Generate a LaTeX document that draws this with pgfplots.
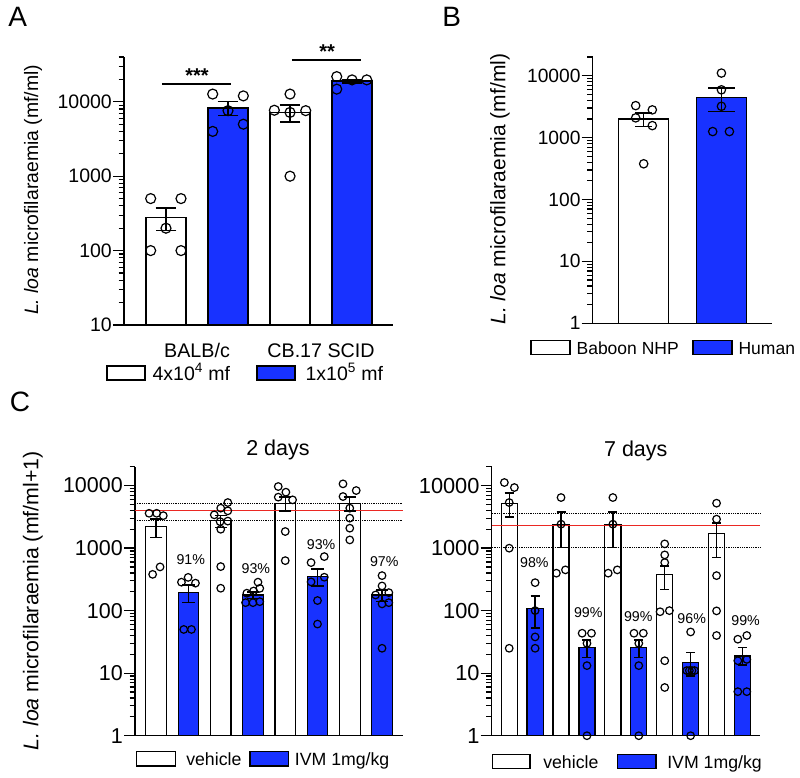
\documentclass[border=0pt]{standalone}
\usepackage{pgfplots}
\pgfplotsset{compat=1.18}
\usepackage{fontspec}
\setmainfont{Liberation Sans}

\definecolor{ivm}{RGB}{24,50,255}
\definecolor{refred}{RGB}{235,40,35}
\newcommand{\fs}[1]{\fontsize{#1}{#1}\selectfont}

\pgfplotsset{
  scale only axis, clip=false,
  axis x line*=bottom, axis y line*=left,
  axis line style={line width=1.3pt},
  tick align=outside, major tick length=11pt, minor tick length=5.5pt,
  tick style={black, line width=1.2pt},
  yticklabel style={inner sep=1pt},
}

\begin{document}
\begin{tikzpicture}
\path[use as bounding box] (0,0) rectangle (800pt,-778pt);

% panel letters and titles
\node[font=\fs{28}] at (17.8pt,-16.7pt) {A};
\node[font=\fs{28}] at (451.7pt,-16.7pt) {B};
\node[font=\fs{28}] at (20pt,-402pt) {C};
\node[font=\fs{21.5}, anchor=base] at (278pt,-455.5pt) {2 days};
\node[font=\fs{21.5}, anchor=base] at (635.8pt,-456pt) {7 days};

% legends
\begin{scope}[line width=1.2pt, inner sep=0pt]
\draw[fill=white] (107pt,-366pt) rectangle (145pt,-380pt);
\node[anchor=base west, font=\fs{19.5}] at (152pt,-380pt) {4x10\textsuperscript{4} mf};
\draw[fill=ivm] (257pt,-366pt) rectangle (295pt,-380pt);
\node[anchor=base west, font=\fs{19.5}] at (305pt,-380pt) {1x10\textsuperscript{5} mf};
\draw[fill=white] (531pt,-340.7pt) rectangle (570pt,-354.7pt);
\node[anchor=base west, font=\fs{17.5}] at (576pt,-354.3pt) {Baboon NHP};
\draw[fill=ivm] (693pt,-340.7pt) rectangle (732pt,-354.7pt);
\node[anchor=base west, font=\fs{17.5}] at (738pt,-354.3pt) {Human};
\draw[fill=white] (136.7pt,-751.7pt) rectangle (175.7pt,-766pt);
\node[anchor=base west, font=\fs{17.7}] at (185.7pt,-765pt) {vehicle};
\draw[fill=ivm] (250pt,-751.7pt) rectangle (288.3pt,-766pt);
\node[anchor=base west, font=\fs{17.7}] at (294.3pt,-765pt) {IVM 1mg/kg};
\draw[fill=white] (492.3pt,-754.7pt) rectangle (530pt,-768.7pt);
\node[anchor=base west, font=\fs{17.7}] at (542.7pt,-768.3pt) {vehicle};
\draw[fill=ivm] (617.3pt,-754.7pt) rectangle (656pt,-768.7pt);
\node[anchor=base west, font=\fs{17.7}] at (666.7pt,-768.3pt) {IVM 1mg/kg};
\end{scope}

% ---------------- A ----------------
\begin{axis}[ymode=log, log origin=infty,
  at={(124pt,-325pt)}, anchor=south west,
  width=269pt, height=268pt,
  xmin=-0.677, xmax=3.66, ymin=10, ymax=40000,
  ytick={10,100,1000,10000}, yticklabels={10,100,1000,10000},
  minor ytick={20,30,40,50,60,70,80,90,200,300,400,500,600,700,800,900,2000,3000,4000,5000,6000,7000,8000,9000,20000,30000,40000},
  yticklabel style={font=\fs{19.5}},
  xtick={0.5,2.5}, xticklabels={BALB/c, CB.17 SCID},
  major x tick style={draw=none},
  xticklabel style={font=\fs{19.7}, yshift=-4pt},
  ylabel={\textit{L. loa} microfilaraemia (mf/ml)},
  ylabel style={font=\fs{19.4}, at={(axis description cs:-0.338,0.504)}, anchor=center},
]
\addplot[ybar, bar width=0.645, draw=black, line width=1.2pt, fill=white] coordinates {(0,280) (2,7240)};
\addplot[ybar, bar width=0.645, draw=black, line width=1.2pt, fill=ivm] coordinates {(1,8260) (3,19000)};
\addplot[draw=none, mark=none, error bars/y dir=both, error bars/y explicit,
  error bars/error bar style={draw=black, solid, line width=1.4pt},
  error bars/error mark options={draw=black, solid, line width=1.4pt, mark size=10.3pt, rotate=90}]
  coordinates {(0,280) +- (0,92) (1,8260) +- (0,1770) (2,7240) +- (0,1860) (3,19000) +- (0,1000)};
\addplot[only marks, mark=o, mark size=5pt, mark options={black, line width=1.2pt}] coordinates {
  (-0.247,500) (0.242,500) (0,200) (-0.247,100) (0.242,100)
  (0.753,12700) (1.247,12000) (1,7600) (0.753,4000) (1.247,5000)
  (2,12700) (1.747,7700) (2,7200) (2.253,7600) (2,1000)
  (2.753,21800) (3,19700) (3.237,19700) (2.753,14800)};
\draw[line width=1.3pt] (axis cs:-0.065,17400) -- (axis cs:1.048,17400);
\draw[line width=1.3pt] (axis cs:2.03,36500) -- (axis cs:3.145,36500);
\node[font=\bfseries\fs{20}] at (axis cs:0.5,22700) {***};
\node[font=\bfseries\fs{20}] at (axis cs:2.597,47600) {**};
\end{axis}

% ---------------- B ----------------
\begin{axis}[ymode=log, log origin=infty,
  at={(592.7pt,-323.3pt)}, anchor=south west,
  width=179pt, height=266.3pt,
  xmin=-0.656, xmax=1.647, ymin=1, ymax=20000,
  xtick=\empty,
  ytick={1,10,100,1000,10000}, yticklabels={1,10,100,1000,10000},
  minor ytick={2,3,4,5,6,7,8,9,20,30,40,50,60,70,80,90,200,300,400,500,600,700,800,900,2000,3000,4000,5000,6000,7000,8000,9000,20000},
  yticklabel style={font=\fs{19.2}},
  ylabel={\textit{L. loa} microfilaraemia (mf/ml)},
  ylabel style={font=\fs{21}, at={(axis description cs:-0.518,0.504)}, anchor=center},
]
\addplot[ybar, bar width=0.643, draw=black, line width=1.2pt, fill=white] coordinates {(0,2000)};
\addplot[ybar, bar width=0.643, draw=black, line width=1.2pt, fill=ivm] coordinates {(1,4450)};
\addplot[draw=none, mark=none, error bars/y dir=both, error bars/y explicit,
  error bars/error bar style={draw=black, solid, line width=1.4pt},
  error bars/error mark options={draw=black, solid, line width=1.4pt, mark size=8.3pt, rotate=90}]
  coordinates {(0,2000) +- (0,506)};
\addplot[draw=none, mark=none, error bars/y dir=both, error bars/y explicit,
  error bars/error bar style={draw=black, solid, line width=1.4pt},
  error bars/error mark options={draw=black, solid, line width=1.4pt, mark size=13.3pt, rotate=90}]
  coordinates {(1,4450) +- (0,1830)};
\addplot[only marks, mark=o, mark size=4.2pt, mark options={black, line width=1.2pt}] coordinates {
  (-0.103,3280) (0.111,2800) (-0.103,2080) (0.111,1560) (0,377)
  (1,11000) (1,5900) (1,3200) (0.888,1250) (1.103,1250)};
\end{axis}

% ---------------- C, 2 days ----------------
\begin{axis}[ymode=log, log origin=infty,
  at={(135pt,-735.7pt)}, anchor=south west,
  width=268pt, height=269pt,
  xmin=-0.657, xmax=7.65, ymin=1, ymax=20000,
  xtick=\empty,
  ytick={1,10,100,1000,10000}, yticklabels={1,10,100,1000,10000},
  minor ytick={2,3,4,5,6,7,8,9,20,30,40,50,60,70,80,90,200,300,400,500,600,700,800,900,2000,3000,4000,5000,6000,7000,8000,9000,20000},
  yticklabel style={font=\fs{21.5}},
  ylabel={\textit{L. loa} microfilaraemia (mf/ml+1)},
  ylabel style={font=\fs{21.3}, at={(axis description cs:-0.381,0.501)}, anchor=center},
]
\addplot[ybar, bar width=0.64, draw=black, line width=1.2pt, fill=white] coordinates {(0,2210) (2,2720) (4,5220) (6,5090)};
\addplot[ybar, bar width=0.64, draw=black, line width=1.2pt, fill=ivm] coordinates {(1,194) (3,178) (5,350) (7,178)};
\addplot[refred, line width=1.5pt] coordinates {(-0.657,4000) (7.65,4000)};
\addplot[black, densely dotted, line width=0.8pt] coordinates {(-0.657,5100) (7.65,5100)};
\addplot[black, densely dotted, line width=0.8pt] coordinates {(-0.657,2760) (7.65,2760)};
\addplot[draw=none, mark=none, error bars/y dir=both, error bars/y explicit,
  error bars/error bar style={draw=black, solid, line width=1.4pt},
  error bars/error mark options={draw=black, solid, line width=1.4pt, mark size=6.2pt, rotate=90}] coordinates {
  (0,2210) += (0,690) -= (0,720)
  (1,194) += (0,64) -= (0,58)
  (2,2720) +- (0,570)
  (3,178) +- (0,21)
  (4,5220) += (0,1300) -= (0,1280)
  (5,350) += (0,114) -= (0,102)
  (6,5090) += (0,1430) -= (0,1150)
  (7,178) += (0,36) -= (0,39)};
\addplot[only marks, mark=o, mark size=3.8pt, mark options={black, line width=1.2pt}] coordinates {
  (-0.22,3600) (0.015,3600) (0.22,3300) (0.12,500) (-0.11,380)
  (0.783,285) (0.99,340) (1.217,275) (0.855,50) (1.093,50)
  (2.22,5350) (2,4350) (1.8,3400) (2.22,3940) (2.22,2700) (1.98,2650) (2,2000) (2,506) (2,228)
  (2.81,190) (3.02,206) (3.21,227) (2.77,134) (3,134) (3.21,139) (3.155,285)
  (3.783,9640) (4.02,7830) (3.783,6520) (4.227,5900) (4,1840) (4,630)
  (4.8,586) (5.21,731) (4.8,288) (5.21,342) (5,145) (5,61)
  (5.79,10640) (6.2,8320) (5.79,6670) (6,4350) (6,3010) (6,2080) (6,1350)
  (7,363) (7,248) (6.8,178) (7.21,194) (7,128) (7.21,134) (7,25)};
\node[font=\fs{14.2}] at (axis cs:1.07,645) {91\%};
\node[font=\fs{14.2}] at (axis cs:3.09,477) {93\%};
\node[font=\fs{14.2}] at (axis cs:5.11,1120) {93\%};
\node[font=\fs{14.2}] at (axis cs:7.07,608) {97\%};
\end{axis}

% ---------------- C, 7 days ----------------
\begin{axis}[ymode=log, log origin=infty,
  at={(491.7pt,-735.7pt)}, anchor=south west,
  width=268.3pt, height=269pt,
  xmin=-0.675, xmax=9.676, ymin=1, ymax=20000,
  xtick=\empty,
  ytick={1,10,100,1000,10000}, yticklabels={1,10,100,1000,10000},
  minor ytick={2,3,4,5,6,7,8,9,20,30,40,50,60,70,80,90,200,300,400,500,600,700,800,900,2000,3000,4000,5000,6000,7000,8000,9000,20000},
  yticklabel style={font=\fs{21.8}},
]
\addplot[ybar, bar width=0.62, draw=black, line width=1.2pt, fill=white] coordinates {(0,5220) (2,2410) (4,2410) (6,382) (8,1690)};
\addplot[ybar, bar width=0.62, draw=black, line width=1.2pt, fill=ivm] coordinates {(1,109) (3,25.6) (5,25.6) (7,14.9) (9,18.8)};
\addplot[refred, line width=1.5pt] coordinates {(-0.675,2290) (9.676,2290)};
\addplot[black, densely dotted, line width=0.8pt] coordinates {(-0.675,3610) (9.676,3610)};
\addplot[black, densely dotted, line width=0.8pt] coordinates {(-0.675,1020) (9.676,1020)};
\addplot[draw=none, mark=none, error bars/y dir=both, error bars/y explicit,
  error bars/error bar style={draw=black, solid, line width=1.4pt},
  error bars/error mark options={draw=black, solid, line width=1.4pt, mark size=4.5pt, rotate=90}] coordinates {
  (0,5220) += (0,2340) -= (0,2100)
  (1,109) += (0,63) -= (0,56)
  (2,2410) += (0,1340) -= (0,1390)
  (3,25.6) += (0,8.4) -= (0,7.9)
  (4,2410) += (0,1340) -= (0,1390)
  (5,25.6) += (0,8.4) -= (0,7.9)
  (6,382) += (0,137) -= (0,162)
  (7,14.9) += (0,6.7) -= (0,5.9)
  (8,1690) += (0,810) -= (0,985)
  (9,18.8) += (0,6.8) -= (0,5.3)};
\addplot[only marks, mark=o, mark size=3.8pt, mark options={black, line width=1.2pt}] coordinates {
  (-0.186,11170) (0.2,9290) (0,5350) (0,996) (0,25)
  (1,280) (1,100) (1,38) (1,25)
  (2,6430) (2,2410) (1.82,397) (2.17,448)
  (2.814,43.5) (3.174,43.5) (3,30) (3,13.2) (3,1)
  (4,6430) (4,2410) (3.82,397) (4.17,448)
  (4.814,43.5) (5.174,43.5) (5,30) (5,13.2) (5,1)
  (6,1167) (6,778) (6,586) (5.82,96) (6.18,100) (6,15.8) (6,5.9)
  (7,45.6) (6.85,11) (6.95,11) (7.05,11) (7.15,11) (7,1)
  (8,5220) (8,2900) (8,363) (8,99) (8,40)
  (8.82,34.9) (9.167,40) (8.82,15.8) (9.167,16.6) (8.82,5.06) (9.167,5.06)};
\node[font=\fs{14.2}] at (axis cs:0.97,586) {98\%};
\node[font=\fs{14.2}] at (axis cs:3.05,94) {99\%};
\node[font=\fs{14.2}] at (axis cs:4.98,80) {99\%};
\node[font=\fs{14.2}] at (axis cs:7.04,75.5) {96\%};
\node[font=\fs{14.2}] at (axis cs:9.12,69) {99\%};
\end{axis}
\end{tikzpicture}
\end{document}
